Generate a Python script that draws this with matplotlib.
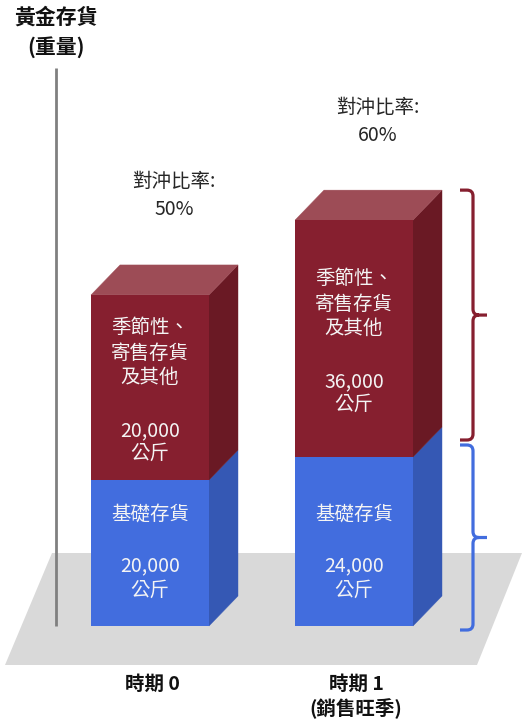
import matplotlib
matplotlib.use('Agg')
import matplotlib.pyplot as plt
from matplotlib.patches import Polygon, PathPatch
from matplotlib.path import Path

plt.rcParams['font.family'] = ['Noto Sans CJK TC', 'DejaVu Sans']

# ---------------- data ----------------
periods = ['時期 0', '時期 1']
period_notes = ['', '(銷售旺季)']
base_inventory_kg = [20000, 24000]        # 基礎存貨 (labelled amounts)
seasonal_inventory_kg = [20000, 36000]    # 季節性、寄售存貨及其他 (labelled amounts)
# bar heights as drawn in the (schematic) picture, same kg scale
base_bar_height = [20000, 23150]
seasonal_bar_height = [25350, 32450]
hedge_ratio = [50, 60]                    # 對沖比率 (%)
y_title_lines = ['黃金存貨', '(重量)']
base_label_lines = ['基礎存貨']
seasonal_label_lines = ['季節性、', '寄售存貨', '及其他']
hedge_label = '對沖比率:'
unit = '公斤'

# ---------------- figure / scales ----------------
W, H = 528, 720
fig = plt.figure(figsize=(W / 100, H / 100), dpi=100)
ax = fig.add_axes([0, 0, 1, 1])
ax.axis('off')

PX_X = 1 / 204          # x data units per pixel
PX_Y = 1000 / 7.3       # kg per pixel
X0_PX, Y0_PX = 150, 626
ax.set_xlim(-X0_PX * PX_X, (W - X0_PX) * PX_X)
ax.set_ylim(-(H - Y0_PX) * PX_Y, Y0_PX * PX_Y)


def px(xp, yp):
    return ((xp - X0_PX) * PX_X, (Y0_PX - yp) * PX_Y)


bar_w = 118 * PX_X
dx = 29 * PX_X
dy = 30 * PX_Y

red_front, red_side, red_top = '#861F2F', '#6A1924', '#9D4C56'
blue_front, blue_side, blue_top = '#426DDE', '#3558B4', '#6F8FE6'
txt_white = '#F4F4F4'

# floor
floor = Polygon([px(5, 665), px(477, 665), px(522, 553), px(52, 553)],
                closed=True, facecolor='#D9D9D9', edgecolor='none', zorder=0)
ax.add_patch(floor)

# vertical axis line
ax.plot([px(56, 0)[0]] * 2, [px(0, 68)[1], 0], color='#808080', lw=2,
        solid_capstyle='butt', zorder=1)

# y title
for i, line in enumerate(y_title_lines):
    ax.text(px(56, 0)[0], px(0, 17 + 30 * i)[1], line, ha='center', va='center',
            fontsize=15, fontweight='bold', color='#111111')

xs = list(range(len(periods)))

# front faces
ax.bar(xs, base_bar_height, width=bar_w, color=blue_front, zorder=3, linewidth=0)
ax.bar(xs, seasonal_bar_height, bottom=base_bar_height, width=bar_w,
       color=red_front, zorder=3, linewidth=0)

for i, x in enumerate(xs):
    xl, xr = x - bar_w / 2, x + bar_w / 2
    b = base_bar_height[i]
    t = b + seasonal_bar_height[i]
    # side faces
    ax.add_patch(Polygon([(xr, 0), (xr + dx, dy), (xr + dx, b + dy), (xr, b)],
                         facecolor=blue_side, edgecolor=blue_side, lw=0.3, zorder=2))
    ax.add_patch(Polygon([(xr, b), (xr + dx, b + dy), (xr + dx, t + dy), (xr, t)],
                         facecolor=red_side, edgecolor=red_side, lw=0.3, zorder=2))
    # top face
    ax.add_patch(Polygon([(xl, t), (xr, t), (xr + dx, t + dy), (xl + dx, t + dy)],
                         facecolor=red_top, edgecolor=red_top, lw=0.3, zorder=2))

    # labels in blue segment (offsets from base in px)
    blue_lines = base_label_lines + [f'{base_inventory_kg[i]:,}', unit]
    for line, off in zip(blue_lines, [112, 60, 36]):
        ax.annotate(line, (x, 0), xytext=(0, off), textcoords='offset pixels',
                    ha='center', va='center', fontsize=14, color=txt_white, zorder=5)

    # labels in red segment (offsets from segment centre)
    mid = b + seasonal_bar_height[i] / 2
    red_lines = seasonal_label_lines + [f'{seasonal_inventory_kg[i]:,}', unit]
    for line, off in zip(red_lines, [60, 34, 10, -43, -66]):
        ax.annotate(line, (x, mid), xytext=(0, off), textcoords='offset pixels',
                    ha='center', va='center', fontsize=14, color=txt_white, zorder=5)

    # hedge ratio text
    for line, off in zip([hedge_label, f'{hedge_ratio[i]}%'], [83, 55]):
        ax.annotate(line, (x, t + dy), xytext=(24, off), textcoords='offset pixels',
                    ha='center', va='center', fontsize=14, color='#262626', zorder=5)

    # category labels
    cat_lines = [periods[i]] + ([period_notes[i]] if period_notes[i] else [])
    for j, line in enumerate(cat_lines):
        ax.annotate(line, (x, 0), xytext=(2, -58 - 25 * j), textcoords='offset pixels',
                    ha='center', va='center', fontsize=14, fontweight='bold',
                    color='#111111', zorder=5)


def brace(x_start, x_vert, x_tip, y_top, y_bot, color):
    r_x, r_y = 6 * PX_X, 6 * PX_Y
    ymid = (y_top + y_bot) / 2
    verts = [(x_start, y_top), (x_vert - r_x, y_top), (x_vert, y_top), (x_vert, y_top - r_y),
             (x_vert, ymid + r_y), (x_vert, ymid), (x_vert + r_x, ymid), (x_tip, ymid),
             (x_start, y_bot), (x_vert - r_x, y_bot), (x_vert, y_bot), (x_vert, y_bot + r_y),
             (x_vert, ymid - r_y), (x_vert, ymid), (x_vert + r_x, ymid)]
    codes = [Path.MOVETO, Path.LINETO, Path.CURVE3, Path.CURVE3,
             Path.LINETO, Path.CURVE3, Path.CURVE3, Path.LINETO,
             Path.MOVETO, Path.LINETO, Path.CURVE3, Path.CURVE3,
             Path.LINETO, Path.CURVE3, Path.CURVE3]
    ax.add_patch(PathPatch(Path(verts, codes), facecolor='none', edgecolor=color,
                           lw=2.3, capstyle='butt', joinstyle='round', zorder=4))


# braces for the last period
i = len(xs) - 1
xr = xs[i] + bar_w / 2
b = base_bar_height[i]
t = b + seasonal_bar_height[i]
xb0, xbv, xbt = xr + 47 * PX_X, xr + 60 * PX_X, xr + 74 * PX_X
brace(xb0, xbv, xbt, t + dy, b + dy / 2 + 2 * PX_Y, red_front)
brace(xb0, xbv, xbt, b + dy / 2 - 3 * PX_Y, -4 * PX_Y, blue_front)

fig.savefig('out.png', dpi=100)
